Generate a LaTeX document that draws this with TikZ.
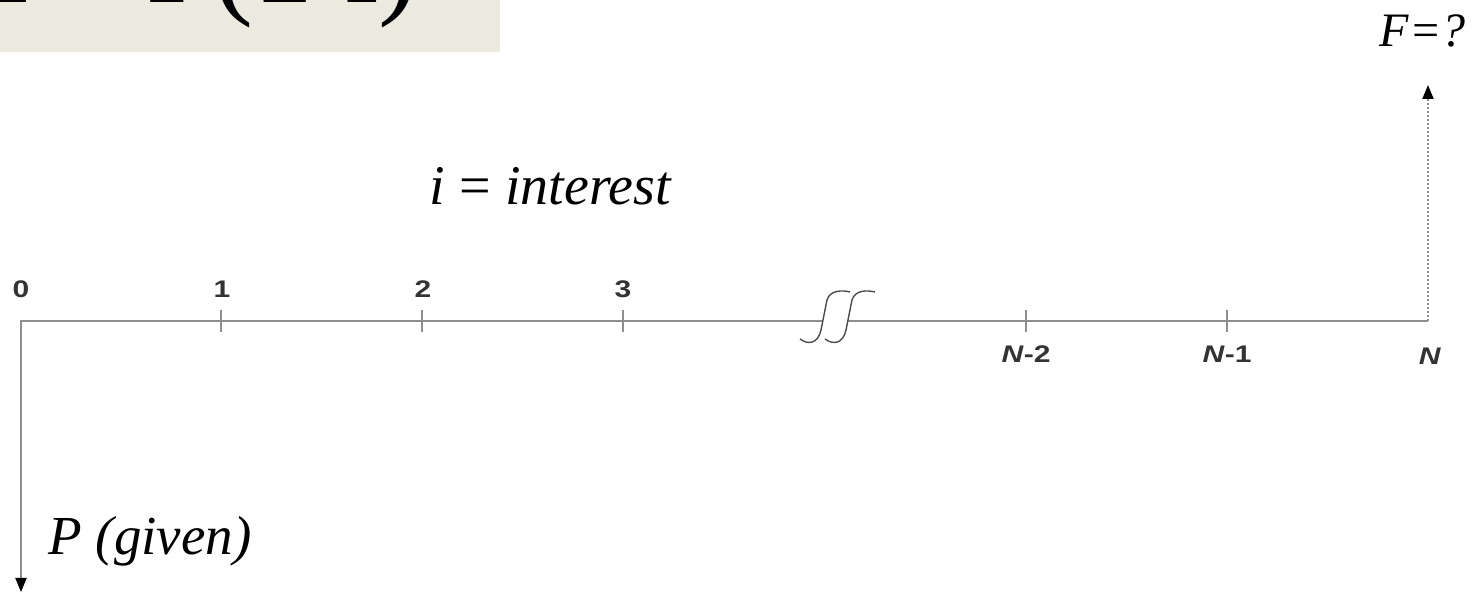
\documentclass[tikz,border=0pt]{standalone}
\usepackage{fontspec}
\setmainfont{Liberation Serif}
\newfontfamily\axisfont{Liberation Sans}
\usepackage{xcolor}
\usetikzlibrary{arrows.meta, positioning}
\definecolor{slidebeige}{HTML}{ECE9DF}
\definecolor{linegray}{HTML}{8E8E8E}
\newcommand{\widelab}[1]{\scalebox{1.25}[1]{#1}}

\begin{document}
\begin{tikzpicture}[x=0.5pt, y=0.5pt, >={Triangle[length=7pt, width=5.5pt, color=black]},
		axisline/.style={linegray, line width=1pt},
		tickmark/.style={linegray, line width=0.8pt},
		ticklabel/.style={inner sep=0pt, anchor=base, text=black!80,
			font=\axisfont\bfseries\fontsize{12}{12}\selectfont},
		breakmark/.style={black!70, line width=0.7pt}]
	\useasboundingbox (0,0) rectangle (1478,594);
	% formula strip, cut off at the top edge
	\begin{scope}
		\clip (0,542) rectangle (500,594);
		\fill[slidebeige] (0,542) rectangle (500,594);
		\node[anchor=base west, inner sep=0pt, font=\fontsize{60}{64}\selectfont] (formula) at (-12,591)
		{F\hspace{.1em}=\hspace{.1em}P(1\hspace{-.15em}+\hspace{-.15em}i)\textsuperscript{N}};
	\end{scope}
	% time line
	\coordinate (t0) at (21,273);
	\coordinate (tN) at (1428,273);
	\coordinate (brkL) at (823,273);
	\coordinate (brkR) at (847,273);
	\coordinate (pEnd) at (21,2);
	\coordinate (fEnd) at (1428,509);
	\draw[axisline, <-] (pEnd) -- (t0) -- (brkL);
	\draw[axisline] (brkR) -- (tN);
	\draw[axisline, densely dotted, ->] (tN) -- (fEnd);
	% break in the line
	\foreach \d in {0,25}
	\draw[breakmark] (800+\d,255) .. controls (808+\d,249) and (818+\d,250) .. (821+\d,264)
	-- (827+\d,294) .. controls (830+\d,304) and (842+\d,304) .. (850+\d,302);
	% ticks
	\foreach \x in {221,422,623,1026,1227}
	\draw[tickmark] (\x,262) -- (\x,284);
	\node[ticklabel] (lab0) at (21,296) {\widelab{0}};
	\foreach \k/\x in {1/222,2/423,3/623}
	\node[ticklabel] (lab\k) at (\x,296) {\widelab{\k}};
	\node[ticklabel] (labN2) at (1026,231) {\widelab{\textit{N}-2}};
	\node[ticklabel] (labN1) at (1227,231) {\widelab{\textit{N}-1}};
	\node[ticklabel] (labN) at (1430,229) {\widelab{\textit{N}}};
	% cash flows and rate
	\node[anchor=base, inner sep=0pt, font=\fontsize{28}{30}\selectfont] (rate) at (551,389)
	{\textit{i} = \textit{interest}};
	\node[anchor=base west, inner sep=0pt, font=\fontsize{27.5}{30}\selectfont] (given) at (48,39)
	{\textit{P (given)}};
	\node[anchor=base east, inner sep=0pt, font=\fontsize{24}{26}\selectfont] (future) at (1466,547)
	{\textit{F=?}};
\end{tikzpicture}
\end{document}
